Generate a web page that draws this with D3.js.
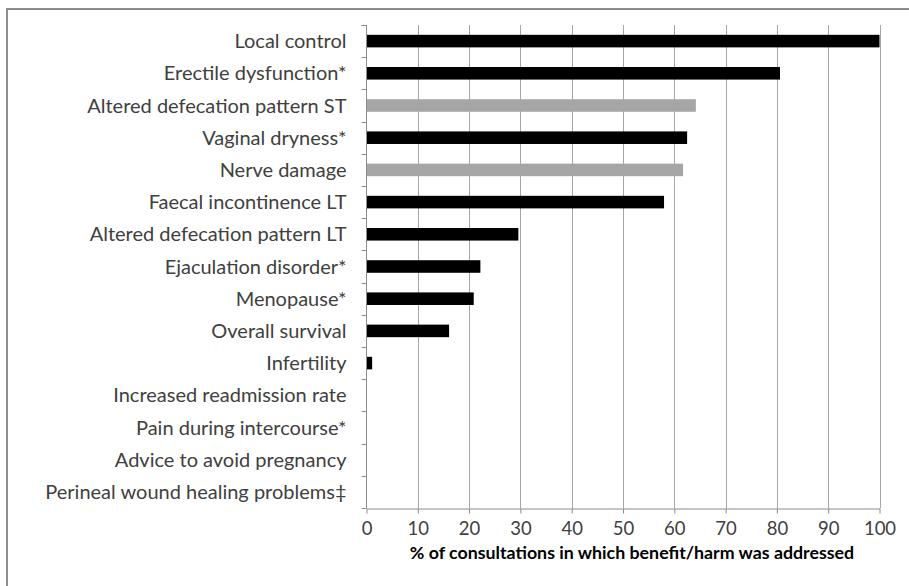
<!DOCTYPE html>
<html>
<head>
<meta charset="utf-8">
<script src="https://cdn.jsdelivr.net/npm/d3@7"></script>
<style>
  body { margin: 0; background: #fff; }
  svg { display: block; font-family: Lato, "Open Sans", sans-serif; }
</style>
</head>
<body>
<svg width="909" height="586"></svg>
<script>
"use strict"

// benefits / harms, top to bottom
const categories = [
  "Local control",
  "Erectile dysfunction*",
  "Altered defecation pattern ST",
  "Vaginal dryness*",
  "Nerve damage",
  "Faecal incontinence LT",
  "Altered defecation pattern LT",
  "Ejaculation disorder*",
  "Menopause*",
  "Overall survival",
  "Infertility",
  "Increased readmission rate",
  "Pain during intercourse*",
  "Advice to avoid pregnancy",
  "Perineal wound healing problems\u2021"
]
const values = [100, 80.6, 64.2, 62.5, 61.7, 58.0, 29.6, 22.2, 20.9, 16.1, 1.1, 0, 0, 0, 0]
// grey bars
const greyBars = ["Altered defecation pattern ST", "Nerve damage"]
const xTicks = [0, 10, 20, 30, 40, 50, 60, 70, 80, 90, 100]
const xTitle = "% of consultations in which benefit/harm was addressed"

let svg = d3.select("svg")

// outer frame (runs off the right and bottom edges)
svg.append("rect")
  .attr("x", 7).attr("y", 9)
  .attr("width", 920).attr("height", 600)
  .attr("fill", "none")
  .attr("stroke", "#8c8c8c")
  .attr("stroke-width", 2)

let plotTop = 25, plotBottom = 508
let x = d3.scaleLinear().domain([0, 100]).range([366.5, 879.5])
let y = d3.scaleBand().domain(categories).range([plotTop, plotBottom]).paddingInner(0.61).paddingOuter(0.305)

// gridlines
svg.append("g")
  .selectAll("line")
  .data(xTicks.slice(1))
  .enter().append("line")
    .attr("x1", d => Math.round(x(d)) + 0.5)
    .attr("x2", d => Math.round(x(d)) + 0.5)
    .attr("y1", plotTop)
    .attr("y2", plotBottom)
    .attr("stroke", "#a6a6a6")

// bars
svg.append("g")
  .selectAll("rect")
  .data(categories)
  .enter().append("rect")
    .attr("x", x(0))
    .attr("y", d => y(d))
    .attr("height", y.bandwidth())
    .attr("width", (d, i) => x(values[i]) - x(0))
    .attr("fill", d => greyBars.includes(d) ? "#a6a6a6" : "#000")

// y axis
let yAxis = svg.append("g")
  .attr("transform", "translate(" + x(0) + ",0)")
yAxis.append("line")
  .attr("y1", plotTop).attr("y2", plotBottom)
  .attr("stroke", "#8c8c8c")
yAxis.selectAll(".tick")
  .data(d3.range(categories.length + 1))
  .enter().append("line")
    .attr("x1", -5).attr("x2", 0)
    .attr("y1", i => Math.round(plotTop + i * y.step()) + 0.5)
    .attr("y2", i => Math.round(plotTop + i * y.step()) + 0.5)
    .attr("stroke", "#8c8c8c")
yAxis.selectAll("text")
  .data(categories)
  .enter().append("text")
    .attr("x", -20)
    .attr("y", d => y(d) + y.bandwidth() / 2)
    .attr("dy", "0.35em")
    .attr("text-anchor", "end")
    .attr("fill", "#404040")
    .style("font-size", "20px")
    .text(d => d)

// x axis
let xAxis = svg.append("g")
  .attr("transform", "translate(0," + (plotBottom + 0.5) + ")")
  .call(d3.axisBottom(x).tickValues(xTicks).tickSize(5).tickPadding(8).tickSizeOuter(0))
xAxis.select(".domain").attr("stroke", "#8c8c8c")
xAxis.selectAll(".tick line").attr("stroke", "#8c8c8c")
xAxis.selectAll(".tick text")
  .attr("fill", "#404040")
  .style("font-size", "18.5px")
  .style("font-family", "Lato, sans-serif")

svg.append("text")
  .attr("x", 632)
  .attr("y", 559)
  .attr("text-anchor", "middle")
  .attr("fill", "#000")
  .style("font-size", "17.8px")
  .style("font-weight", "bold")
  .text(xTitle)
</script>
</body>
</html>
